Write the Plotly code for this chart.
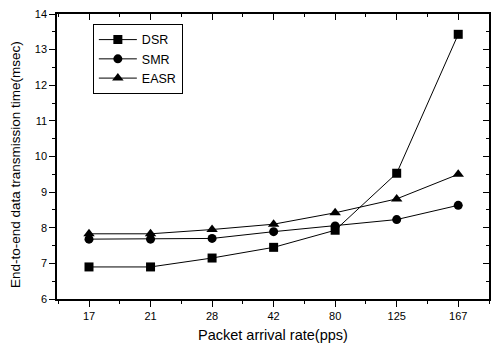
import plotly.graph_objects as go

categories = ["17", "21", "28", "42", "80", "125", "167"]
dsr = [6.90, 6.90, 7.15, 7.45, 7.93, 9.53, 13.43]
smr = [7.68, 7.68, 7.70, 7.89, 8.05, 8.23, 8.63]
easr = [7.83, 7.83, 7.95, 8.10, 8.42, 8.81, 9.50]
series = [("DSR", dsr, "square"), ("SMR", smr, "circle"), ("EASR", easr, "triangle-up")]

xpos = list(range(len(categories)))
FONT = "Liberation Sans, Arial, sans-serif"

fig = go.Figure()
for name, vals, sym in series:
    fig.add_trace(go.Scatter(
        x=xpos, y=vals, name=name, mode="lines+markers",
        line=dict(color="black", width=1),
        marker=dict(symbol=sym, size=9 if sym != "triangle-up" else 10, color="black"),
    ))
# invisible trace for the mirrored (top/right) axes
fig.add_trace(go.Scatter(x=[None], y=[None], xaxis="x2", yaxis="y2",
                         showlegend=False, hoverinfo="skip"))

xr = [-0.52, 6.5]
yr = [6, 14]
axis_common = dict(showgrid=False, zeroline=False, linecolor="black", linewidth=1.5,
                   tickcolor="black", tickwidth=1, automargin=False)

fig.update_layout(
    width=495, height=345,
    margin=dict(l=57, r=6, t=14, b=46),
    paper_bgcolor="white", plot_bgcolor="white",
    font=dict(family=FONT, size=11, color="black"),
    showlegend=True,
    legend=dict(x=0.083, y=0.965, xanchor="left", yanchor="top",
                bordercolor="black", borderwidth=1, bgcolor="white",
                font=dict(family=FONT, size=12.5), itemwidth=38,
                tracegroupgap=0),
    xaxis=dict(range=xr, tickmode="array", tickvals=xpos, ticktext=categories,
               ticks="outside", ticklen=6,
               minor=dict(ticks="outside", ticklen=3, tick0=0.5, dtick=1, tickcolor="black"),
               **axis_common),
    yaxis=dict(range=yr, tickmode="linear", tick0=6, dtick=1,
               ticks="outside", ticklen=6,
               minor=dict(ticks="outside", ticklen=3, dtick=0.5, tickcolor="black"),
               **axis_common),
    xaxis2=dict(range=xr, overlaying="x", side="top", tickmode="array", tickvals=xpos,
                showticklabels=False, ticks="inside", ticklen=6,
                minor=dict(ticks="inside", ticklen=3, tick0=0.5, dtick=1, tickcolor="black"),
                **axis_common),
    yaxis2=dict(range=yr, overlaying="y", side="right", tickmode="linear", tick0=6, dtick=1,
                showticklabels=False, ticks="inside", ticklen=6,
                minor=dict(ticks="inside", ticklen=3, dtick=0.5, tickcolor="black"),
                **axis_common),
    annotations=[
        dict(text="Packet arrival rate(pps)", xref="paper", yref="paper",
             x=0.5, y=0, yshift=-36, xanchor="center", yanchor="middle",
             showarrow=False, font=dict(family=FONT, size=14.5)),
        dict(text="End-to-end data transmission time(msec)", xref="paper", yref="paper",
             x=0, y=0.47, xshift=-42, xanchor="center", yanchor="middle", textangle=-90,
             showarrow=False, font=dict(family=FONT, size=13.5)),
    ],
)

fig.write_html("out.html", config={"displayModeBar": False},
               post_script="document.body.style.margin='0';")
